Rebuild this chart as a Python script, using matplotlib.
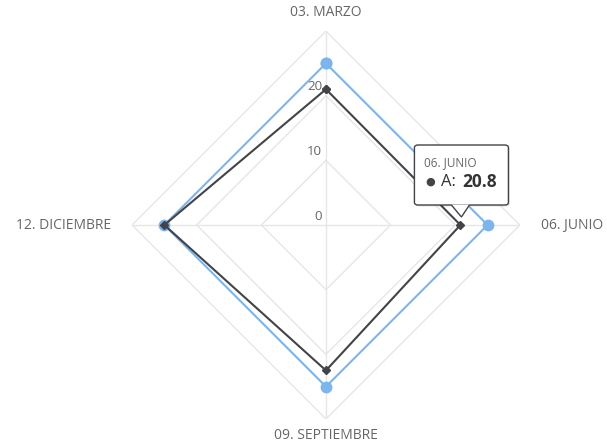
import numpy as np
import matplotlib
matplotlib.use("Agg")
import matplotlib.pyplot as plt
from matplotlib.patches import FancyBboxPatch, Polygon

plt.rcParams['font.family'] = ['Open Sans', 'DejaVu Sans']

categories = ['03. MARZO', '06. JUNIO', '09. SEPTIEMBRE', '12. DICIEMBRE']
serie_azul = [25, 25, 25, 25]
serie_a = [21, 20.8, 22.5, 25]
niveles = [10, 20, 30]
etiquetas_r = [0, 10, 20]

azul = '#7cb5ec'
negro = '#434348'
gris = '#e6e6e6'
texto = '#666666'

n = len(categories)
ang = np.arange(n) * 2 * np.pi / n
ang_c = np.append(ang, ang[0])

fig = plt.figure(figsize=(6.07, 4.46), dpi=100)
ax = fig.add_axes([0.2175, 0.0605, 0.639, 0.870], projection='polar')
ax.set_theta_zero_location('N')
ax.set_theta_direction(-1)
ax.set_ylim(0, 30)
ax.grid(False)
ax.spines['polar'].set_visible(False)
ax.set_xticks([])
ax.set_yticks([])
ax.patch.set_alpha(0)

# rejilla poligonal
for r in niveles:
    ax.plot(ang_c, [r] * (n + 1), color=gris, lw=1, zorder=1)
for a in ang:
    ax.plot([a, a], [0, 30], color=gris, lw=1, zorder=1)

# series
ax.plot(ang_c, serie_azul + serie_azul[:1], color=azul, lw=1.5, zorder=3,
        marker='o', ms=7.5, mec=azul, mfc=azul)
ax.plot(ang_c, serie_a + serie_a[:1], color=negro, lw=1.5, zorder=4,
        marker='D', ms=4.5, mec=negro, mfc=negro)

# etiquetas radiales
for v in etiquetas_r:
    ax.annotate(str(v), xy=(0, v), xytext=(-4, 9), textcoords='offset pixels',
                ha='right', va='center', fontsize=9.5, color=texto)

# etiquetas de categorias
ax.annotate(categories[0], xy=(ang[0], 30), xytext=(0, 19), textcoords='offset pixels',
            ha='center', va='center', fontsize=10, color=texto)
ax.annotate(categories[1], xy=(ang[1], 30), xytext=(21, 0), textcoords='offset pixels',
            ha='left', va='center', fontsize=10, color=texto)
ax.annotate(categories[2], xy=(ang[2], 30), xytext=(0, -17), textcoords='offset pixels',
            ha='center', va='center', fontsize=10, color=texto)
ax.annotate(categories[3], xy=(ang[3], 30), xytext=(-21, 0), textcoords='offset pixels',
            ha='right', va='center', fontsize=10, color=texto)

# tooltip
fig.canvas.draw()
px, py = ax.transData.transform((ang[1], serie_a[1]))
inv = fig.transFigure.inverted()


def fpt(dx, dy):
    return inv.transform((px + dx, py + dy))


x0, y0 = fpt(-46, 20)
x1, y1 = fpt(48, 80)
for off, col, al in [((1.5, -1.5), 'black', 0.10), ((0, 0), 'white', 0.85)]:
    sx, sy = fpt(-46 + off[0], 20 + off[1])
    box = FancyBboxPatch((sx, sy), x1 - x0, y1 - y0, boxstyle='round,pad=0,rounding_size=0.006',
                         transform=fig.transFigure, fc=col, ec=negro if col == 'white' else 'none',
                         lw=1, alpha=al if col != 'white' else 1, zorder=10)
    fig.patches.append(box)
tri = Polygon([fpt(-9, 20.5), fpt(1, 8), fpt(9, 20.5)], closed=True, transform=fig.transFigure,
              fc='white', ec='none', zorder=11)
fig.patches.append(tri)
fig.patches.append(Polygon([fpt(-9, 20), fpt(1, 8), fpt(9, 20)], closed=False, transform=fig.transFigure,
                           fill=False, ec=negro, lw=1, zorder=11))

hx, hy = fpt(-36, 62)
fig.text(hx, hy, categories[1], fontsize=8.5, color=texto, ha='left', va='center', zorder=12)
bx, by = fpt(-30, 43)
fig.text(bx, by, '\u25cf', fontsize=8, color=negro, ha='center', va='center', zorder=12)
ax2, ay2 = fpt(-19, 43)
fig.text(ax2, ay2, 'A:', fontsize=12, color='#333333', ha='left', va='center', zorder=12)
vx, vy = fpt(2, 43)
fig.text(vx, vy, f'{serie_a[1]}', fontsize=12.5, color='#333333', fontweight='bold',
         ha='left', va='center', zorder=12)

fig.savefig('out.png', dpi=100)
